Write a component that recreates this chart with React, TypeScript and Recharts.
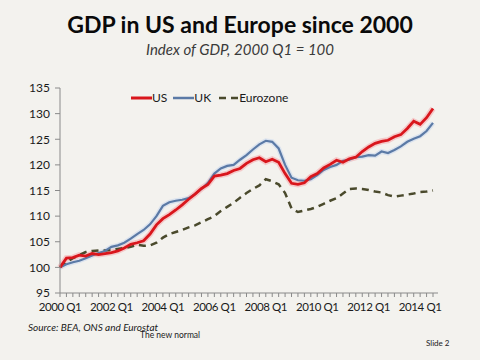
import { LineChart, Line, XAxis, YAxis } from 'recharts';

const quarters = [
  '2000 Q1', '2000 Q2', '2000 Q3', '2000 Q4',
  '2001 Q1', '2001 Q2', '2001 Q3', '2001 Q4',
  '2002 Q1', '2002 Q2', '2002 Q3', '2002 Q4',
  '2003 Q1', '2003 Q2', '2003 Q3', '2003 Q4',
  '2004 Q1', '2004 Q2', '2004 Q3', '2004 Q4',
  '2005 Q1', '2005 Q2', '2005 Q3', '2005 Q4',
  '2006 Q1', '2006 Q2', '2006 Q3', '2006 Q4',
  '2007 Q1', '2007 Q2', '2007 Q3', '2007 Q4',
  '2008 Q1', '2008 Q2', '2008 Q3', '2008 Q4',
  '2009 Q1', '2009 Q2', '2009 Q3', '2009 Q4',
  '2010 Q1', '2010 Q2', '2010 Q3', '2010 Q4',
  '2011 Q1', '2011 Q2', '2011 Q3', '2011 Q4',
  '2012 Q1', '2012 Q2', '2012 Q3', '2012 Q4',
  '2013 Q1', '2013 Q2', '2013 Q3', '2013 Q4',
  '2014 Q1', '2014 Q2', '2014 Q3',
];

const usValues = [
  100, 101.8, 101.9, 102.4,
  102.2, 102.7, 102.5, 102.7,
  102.9, 103.2, 103.8, 104.5,
  104.8, 105.2, 106.5, 108.3,
  109.5, 110.3, 111.2, 112.2,
  113.3, 114.3, 115.4, 116.2,
  117.8, 118.0, 118.3, 118.9,
  119.3, 120.3, 121.0, 121.4,
  120.6, 121.1, 120.5, 118.3,
  116.4, 116.2, 116.5, 117.7,
  118.3, 119.4, 120.1, 120.9,
  120.5, 121.2, 121.5, 122.6,
  123.5, 124.2, 124.6, 124.8,
  125.5, 125.9, 127.1, 128.5,
  127.9, 129.2, 131.0,
];

const ukValues = [
  100, 100.6, 101.0, 101.3,
  101.8, 102.3, 102.8, 103.2,
  104.0, 104.3, 104.8, 105.6,
  106.5, 107.3, 108.4, 110.0,
  112.0, 112.7, 113.0, 113.2,
  113.5, 114.3, 115.3, 116.5,
  118.3, 119.3, 119.8, 120.0,
  121.0, 121.9, 123.0, 124.0,
  124.7, 124.5, 123.2, 120.0,
  117.5, 117.0, 116.9, 117.2,
  118.0, 119.0, 119.6, 120.0,
  120.8, 121.0, 121.5, 121.6,
  121.9, 121.8, 122.6, 122.3,
  122.9, 123.6, 124.5, 125.1,
  125.6, 126.6, 128.2,
];

const eurozoneValues = [
  100, 101.0, 101.8, 102.4,
  103.0, 103.2, 103.3, 103.3,
  103.4, 103.6, 103.8, 104.0,
  104.4, 104.2, 104.3, 104.8,
  105.8, 106.5, 106.9, 107.3,
  107.8, 108.2, 108.8, 109.4,
  110.0, 111.0, 111.8, 112.6,
  113.6, 114.5, 115.3, 116.0,
  117.2, 116.8, 116.2, 114.5,
  111.5, 110.8, 111.1, 111.4,
  111.8, 112.4, 113.0, 113.5,
  114.4, 115.3, 115.4, 115.3,
  115.1, 114.8, 114.6, 114.1,
  113.8, 114.0, 114.2, 114.4,
  114.7, 114.8, 115.0,
];

const xTickLabels = ['2000 Q1', '2002 Q1', '2004 Q1', '2006 Q1', '2008 Q1', '2010 Q1', '2012 Q1', '2014 Q1'];
const yTicks = [95, 100, 105, 110, 115, 120, 125, 130, 135];

const data = quarters.map((q, i) => ({
  quarter: q,
  us: usValues[i],
  uk: ukValues[i],
  eurozone: eurozoneValues[i],
}));

const FONT = 'Lato, "Open Sans", sans-serif';
const US_RED = '#d9161c';
const UK_BLUE = '#5b7aa6';
const EZ_OLIVE = '#4a4a2c';

const XTick = (props: any) => {
  const { x, y, payload } = props;
  if (!xTickLabels.includes(payload.value)) return null;
  return (
    <text x={x} y={y + 12} textAnchor="middle" fontSize={11.5} letterSpacing={-0.4} fontFamily={FONT} fill="#1a1a1a">
      {payload.value}
    </text>
  );
};

// legend drawn as plain html so it doesn't eat into the plot area
const LegendBox = () => (
  <div style={{ position: 'absolute', top: 91, left: 131, display: 'flex', alignItems: 'center', fontFamily: FONT, fontSize: 12, lineHeight: '14px', color: '#1a1a1a' }}>
    <svg width={21} height={6}><line x1={0} y1={3} x2={21} y2={3} stroke={US_RED} strokeWidth={3} /></svg>
    <span style={{ marginRight: 6 }}>US</span>
    <svg width={21} height={6}><line x1={0} y1={3} x2={21} y2={3} stroke={UK_BLUE} strokeWidth={2.5} /></svg>
    <span style={{ marginRight: 8 }}>UK</span>
    <svg width={20} height={6}><line x1={0} y1={3} x2={20} y2={3} stroke={EZ_OLIVE} strokeWidth={2.5} strokeDasharray="7 5" /></svg>
    <span>Eurozone</span>
  </div>
);

export default function App() {
  return (
    <div style={{ position: 'fixed', left: 0, top: 0, width: 480, height: 360, background: '#f3f2ee', overflow: 'hidden' }}>
      <div style={{ position: 'absolute', top: 13, left: 0, width: 480, textAlign: 'center', fontFamily: FONT, fontWeight: 700, fontSize: 23, lineHeight: '23px', color: '#0a0a0a' }}>
        GDP in US and Europe since 2000
      </div>
      <div style={{ position: 'absolute', top: 42, left: 0, width: 480, textAlign: 'center', fontFamily: FONT, fontStyle: 'italic', fontSize: 15, lineHeight: '15px', color: '#3a3a3a' }}>
        Index of GDP, 2000 Q1 = 100
      </div>
      <LineChart width={480} height={360} data={data} margin={{ top: 88, right: 42, bottom: 37, left: 0 }}>
        <XAxis
          dataKey="quarter"
          interval={0}
          tick={<XTick />}
          tickSize={4}
          tickMargin={2}
          height={30}
          axisLine={{ stroke: '#8a8a8a' }}
          tickLine={{ stroke: '#8a8a8a' }}
          padding={{ left: 0, right: 5 }}
        />
        <YAxis
          domain={[95, 135]}
          ticks={yTicks}
          width={60}
          tickSize={5}
          tickMargin={5}
          axisLine={{ stroke: '#8a8a8a' }}
          tickLine={{ stroke: '#8a8a8a' }}
          tick={{ fontSize: 12, fontFamily: FONT, fill: '#1a1a1a' }}
        />
        <Line dataKey="uk" stroke="#dbe3ee" strokeWidth={5} dot={false} legendType="none" isAnimationActive={false} />
        <Line dataKey="us" stroke="#f4c9c9" strokeWidth={6} dot={false} legendType="none" isAnimationActive={false} />
        <Line dataKey="eurozone" name="Eurozone" stroke={EZ_OLIVE} strokeWidth={2.5} strokeDasharray="7 5" dot={false} isAnimationActive={false} />
        <Line dataKey="uk" name="UK" stroke={UK_BLUE} strokeWidth={2.2} dot={false} isAnimationActive={false} />
        <Line dataKey="us" name="US" stroke={US_RED} strokeWidth={2.8} dot={false} isAnimationActive={false} />
      </LineChart>
      <LegendBox />
      <div style={{ position: 'absolute', top: 321, left: 28, fontFamily: FONT, fontStyle: 'italic', fontSize: 10, color: '#1a1a1a' }}>
        Source: BEA, ONS and Eurostat
      </div>
      <div style={{ position: 'absolute', top: 330, left: 140, fontFamily: FONT, fontSize: 8.5, color: '#1a1a1a' }}>
        The new normal
      </div>
      <div style={{ position: 'absolute', top: 338, left: 426, fontFamily: FONT, fontSize: 8, color: '#1a1a1a' }}>
        Slide 2
      </div>
    </div>
  );
}
